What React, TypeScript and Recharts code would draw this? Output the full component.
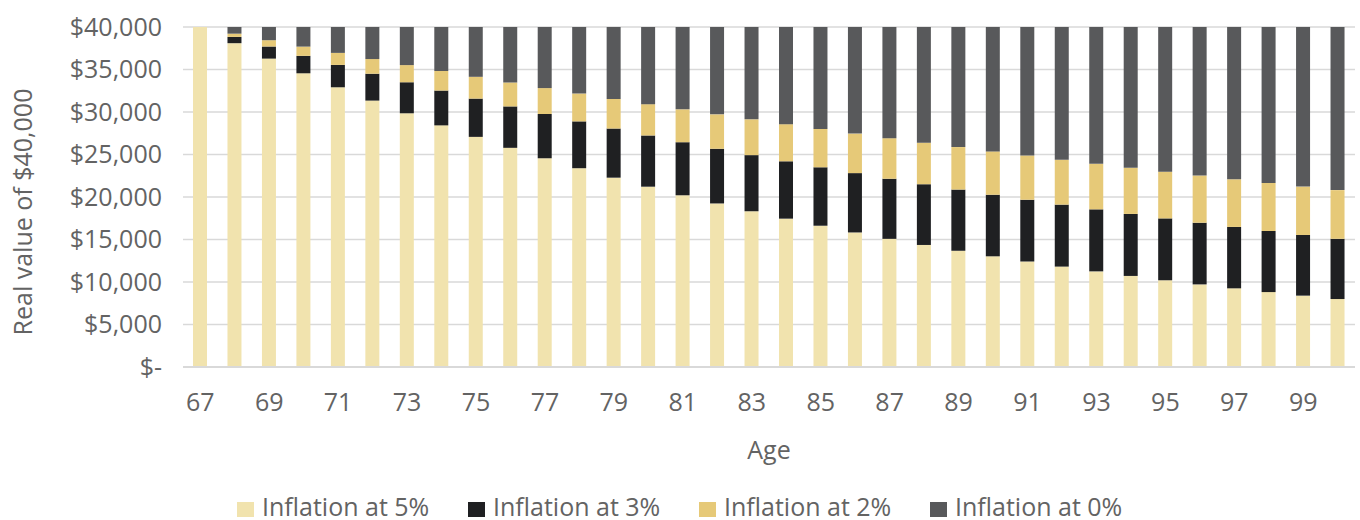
import { BarChart, Bar, XAxis, YAxis, CartesianGrid, Label } from 'recharts';

// Ages along the x axis
const ages = [
  67, 68, 69, 70, 71, 72, 73, 74, 75, 76, 77, 78, 79, 80, 81, 82, 83,
  84, 85, 86, 87, 88, 89, 90, 91, 92, 93, 94, 95, 96, 97, 98, 99, 100,
];

const realAt5 = [
  40000, 38095, 36281, 34554, 32908, 31341, 29849, 28427, 27074, 25785, 24557, 23387,
  22274, 21213, 20203, 19241, 18324, 17452, 16621, 15829, 15076, 14358, 13674, 13023,
  12403, 11812, 11250, 10714, 10204, 9718, 9255, 8814, 8395, 7995,
];
const realAt3 = [
  40000, 38835, 37704, 36606, 35539, 34505, 33499, 32524, 31577, 30657, 29764, 28897,
  28055, 27238, 26445, 25674, 24927, 24201, 23496, 22811, 22147, 21502, 20876, 20268,
  19677, 19104, 18548, 18008, 17483, 16974, 16480, 15999, 15533, 15081,
];
const realAt2 = [
  40000, 39216, 38447, 37693, 36954, 36229, 35519, 34822, 34140, 33470, 32814, 32171,
  31540, 30921, 30315, 29721, 29138, 28567, 28007, 27457, 26919, 26391, 25874, 25366,
  24869, 24381, 23903, 23434, 22975, 22525, 22083, 21650, 21225, 20809,
];
const nominal = 40000;

const yTicks = [0, 5000, 10000, 15000, 20000, 25000, 30000, 35000, 40000];

const series = [
  { key: 'at5', name: 'Inflation at 5%', color: '#F1E3AE' },
  { key: 'at3', name: 'Inflation at 3%', color: '#1F2022' },
  { key: 'at2', name: 'Inflation at 2%', color: '#E6C978' },
  { key: 'at0', name: 'Inflation at 0%', color: '#58595B' },
];

// stacked segments: each layer is the gap up to the next-lower inflation rate
const data = ages.map((age, i) => ({
  age,
  at5: realAt5[i],
  at3: realAt3[i] - realAt5[i],
  at2: realAt2[i] - realAt3[i],
  at0: nominal - realAt2[i],
}));

const FONT = '"Open Sans", "Noto Sans", sans-serif';
const TEXT = '#636363';
const GRID = '#d9d9d9';

const formatMoney = (v: number) => (v === 0 ? '$-' : '$' + v.toLocaleString('en-US'));

// legend item left edges, spaced like the original
const legendX = [237, 468, 699, 930];

export default function App() {
  return (
    <div style={{ position: 'absolute', left: 0, top: 0, width: 1360, height: 520, background: '#fff', fontFamily: FONT }}>
      <BarChart width={1360} height={520} data={data} margin={{ top: 27, right: 5, left: 0, bottom: 0 }}>
        <CartesianGrid vertical={false} stroke={GRID} strokeWidth={1.5} />
        <XAxis
          dataKey="age"
          height={153}
          interval={1}
          tickLine={false}
          tickSize={0}
          tickMargin={26}
          axisLine={{ stroke: GRID, strokeWidth: 2 }}
          tick={{ fill: TEXT, fontSize: 25, fontFamily: FONT }}
        >
          <Label
            content={(props: any) => {
              const vb = props.viewBox;
              return (
                <text x={vb.x + vb.width / 2} y={vb.y + 92} textAnchor="middle" fill={TEXT} fontSize={25} fontWeight={500} fontFamily={FONT}>
                  Age
                </text>
              );
            }}
          />
        </XAxis>
        <YAxis
          width={183}
          domain={[0, 40000]}
          ticks={yTicks}
          tickFormatter={formatMoney}
          tickLine={false}
          tickSize={0}
          tickMargin={21}
          axisLine={false}
          tick={{ fill: TEXT, fontSize: 25, fontFamily: FONT }}
        >
          <Label
            content={() => (
              <text x={32} y={212} transform="rotate(-90, 32, 212)" textAnchor="middle" fill={TEXT} fontSize={25} fontFamily={FONT}>
                Real value of $40,000
              </text>
            )}
          />
        </YAxis>
        {series.map((s) => (
          <Bar key={s.key} dataKey={s.key} name={s.name} stackId="a" fill={s.color} barSize={14} isAnimationActive={false} />
        ))}
      </BarChart>
      <svg width={1360} height={40} style={{ position: 'absolute', left: 0, top: 480 }}>
        {series.map((s, i) => (
          <g key={s.key}>
            <rect x={legendX[i]} y={22} width={17} height={15} fill={s.color} />
            <text x={legendX[i] + 25} y={36} fill={TEXT} fontSize={25} fontFamily={FONT}>
              {s.name}
            </text>
          </g>
        ))}
      </svg>
    </div>
  );
}
